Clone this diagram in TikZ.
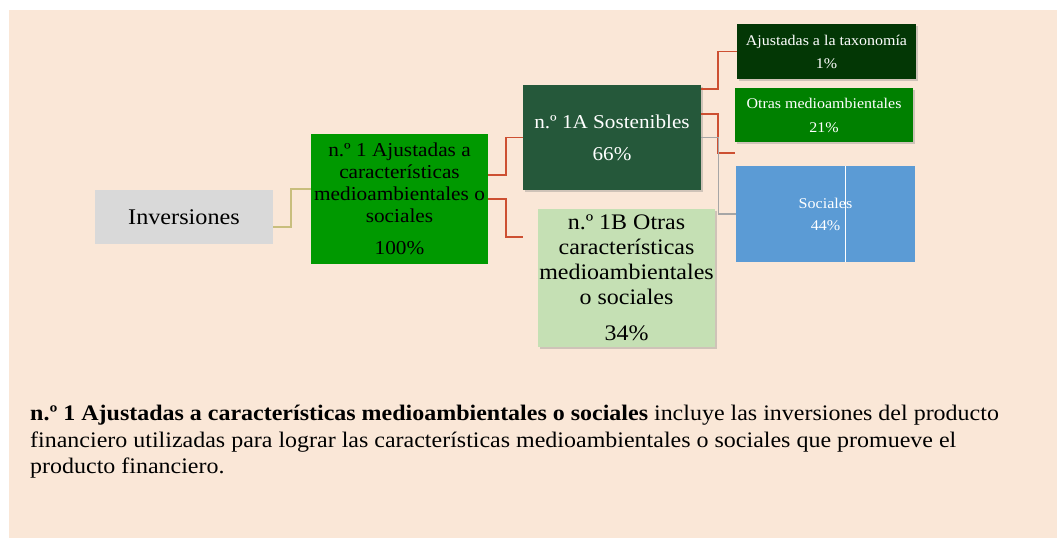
\documentclass[tikz,border=0pt]{standalone}
\usepackage{fontspec}
\setmainfont{Liberation Serif}[FakeStretch=1.08]
\usepackage{tikz}
\usetikzlibrary{positioning, shadows}
\definecolor{bgpeach}{RGB}{250,231,215}
\definecolor{invgray}{RGB}{217,217,217}
\definecolor{ngreen}{RGB}{0,153,0}
\definecolor{sosgreen}{RGB}{37,88,58}
\definecolor{otrasgreen}{RGB}{197,224,180}
\definecolor{taxgreen}{RGB}{3,55,5}
\definecolor{medgreen}{RGB}{0,128,0}
\definecolor{socblue}{RGB}{91,155,213}
\definecolor{linkred}{RGB}{205,80,50}
\definecolor{linktan}{RGB}{200,190,125}
\definecolor{linkgray}{RGB}{166,166,166}

\begin{document}
\begin{tikzpicture}[x=1pt, y=-1pt,
    box/.style={inner sep=0pt, align=center, minimum width=178pt},
    shad/.style={drop shadow={opacity=0.35, shadow xshift=2pt, shadow yshift=-2pt}},
    redlink/.style={draw=linkred, line width=1.8pt},
    tanlink/.style={draw=linktan, line width=1.8pt},
    graylink/.style={draw=linkgray, line width=1.4pt}]
    \useasboundingbox (0,0) rectangle (1057,538);
    \fill[bgpeach] (9,10) rectangle (1057,538);

    \node[box, fill=invgray, minimum height=54pt, font=\fontsize{22.4}{24}\selectfont] (inv) at (184,217) {Inversiones};
    \node[box, fill=ngreen, minimum width=177pt, minimum height=130pt, font=\fontsize{19.7}{22}\selectfont] (n1) at (399.5,199)
        {n.º 1 Ajustadas a\\características\\medioambientales o\\sociales\\[10pt]100\%};
    \node[box, fill=sosgreen, shad, text=white, minimum height=105pt, font=\fontsize{19.6}{32}\selectfont] (n1a) at (612,137.5)
        {n.º 1A Sostenibles\\66\%};
    \node[box, fill=otrasgreen, shad, minimum width=177pt, minimum height=138pt, font=\fontsize{22.2}{25}\selectfont] (n1b) at (626.5,278)
        {n.º 1B Otras\\características\\medioambientales\\o sociales\\[11pt]34\%};
    \node[box, fill=taxgreen, shad, text=white, minimum width=179pt, minimum height=55pt, font=\fontsize{14.8}{23}\selectfont] (tax) at (826.5,51.5)
        {Ajustadas a la taxonomía\\1\%};
    \node[box, fill=medgreen, shad, text=white, minimum height=54pt, font=\fontsize{14.8}{24}\selectfont] (otras) at (824,115)
        {Otras medioambientales\\21\%};
    \node[box, fill=socblue, text=white, minimum width=179pt, minimum height=96pt, font=\fontsize{14.9}{22}\selectfont] (soc) at (825.5,214)
        {Sociales\\44\%};
    \draw[white, line width=0.8pt] (845,166) -- (845,262);

    \coordinate (n1bend) at (523,237);
    \coordinate (otrasend) at (735,153);

    \draw[tanlink] ([yshift=-10pt]inv.east) -- ++(18,0) |- ([yshift=10pt]n1.west);
    \draw[redlink] ([yshift=24pt]n1.east) -- ++(18,0) |- (n1a.west);
    \draw[redlink] (n1.east) -- ++(18,0) |- (n1bend);
    \draw[redlink] ([yshift=48.5pt]n1a.east) -- ++(17,0) |- (tax.west);
    \draw[redlink] ([yshift=23.5pt]n1a.east) -- ++(17,0) |- (otrasend);
    \draw[graylink] (n1a.east) -- ++(17,0) |- (soc.west);

    \node[anchor=north west, inner sep=0pt, align=left, font=\fontsize{22.2}{26.5}\selectfont] (nota) at (30,405)
        {\textbf{n.º 1 Ajustadas a características medioambientales o sociales} incluye las inversiones del producto\\
         financiero utilizadas para lograr las características medioambientales o sociales que promueve el\\
         producto financiero.};
\end{tikzpicture}
\end{document}
